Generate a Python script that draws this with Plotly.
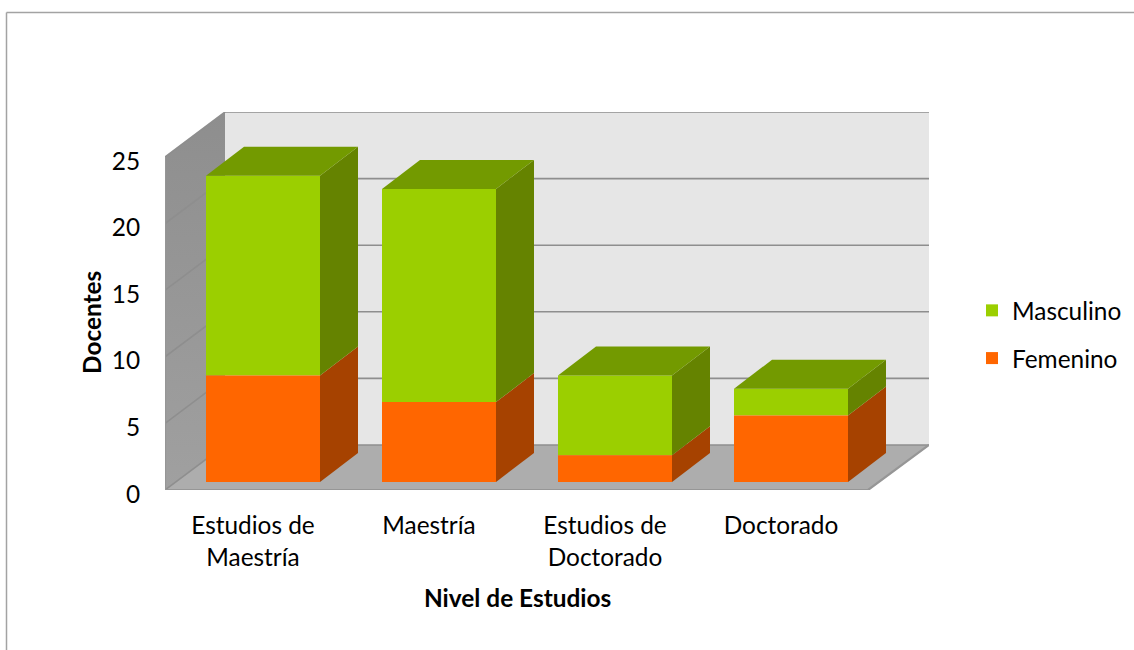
import plotly.graph_objects as go

categories = ["Estudios de<br>Maestría", "Maestría", "Estudios de<br>Doctorado", "Doctorado"]
femenino = [8, 6, 2, 5]
masculino = [15, 16, 6, 2]
y_ticks = [0, 5, 10, 15, 20, 25]

W, H = 1134, 650
PX_L, PX_R, PX_T, PX_B = 165, 929, 112, 490
PX_X = 176.0          # pixels per category
PX_Y = 13.32          # pixels per docente
X0 = -0.5
X1 = X0 + (PX_R - PX_L) / PX_X
Y1 = (PX_B - PX_T) / PX_Y
# projection of the box depth
WALL_DX, WALL_DY = 60 / PX_X, 45 / PX_Y
FRONT_W = (868 - 165) / PX_X
BAR_W = 114 / PX_X
BAR_DX, BAR_DY = 38 / PX_X, 29 / PX_Y
BAR_SHIFT, BAR_LIFT = 10 / PX_X, 8 / PX_Y

GRID = "#8e8e8e"
FONT = "Lato"
TXT = "#000000"
FS = 24.4


def poly(xs, ys, color, axes="", **kw):
    return go.Scatter(x=xs, y=ys, mode="lines", fill="toself", fillcolor=color,
                      line=dict(width=0, color=color), hoverinfo="skip",
                      showlegend=False, xaxis="x" + axes, yaxis="y" + axes, **kw)


fig = go.Figure()

# back wall
fig.add_trace(poly([X0 + WALL_DX, X1, X1, X0 + WALL_DX], [WALL_DY, WALL_DY, Y1, Y1], "#e6e6e6"))
# floor
fig.add_trace(poly([X0, X0 + WALL_DX, X1, X0 + FRONT_W], [0, WALL_DY, WALL_DY, 0], "#adadad"))
# side wall
fig.add_trace(go.Scatter(
    x=[X0, X0 + WALL_DX, X0 + WALL_DX, X0], y=[0, WALL_DY, Y1, y_ticks[-1]],
    mode="lines", fill="toself", line=dict(width=0), hoverinfo="skip", showlegend=False,
    fillgradient=dict(type="vertical", colorscale=[[0, "#a0a0a0"], [1, "#8e8e8e"]])))
# grid lines across the side wall and back wall
for t in y_ticks:
    fig.add_trace(go.Scatter(
        x=[X0, X0 + WALL_DX, X1], y=[t, t + WALL_DY, t + WALL_DY], mode="lines",
        line=dict(color=GRID, width=1.6), hoverinfo="skip", showlegend=False))
# front and left edges
fig.add_trace(go.Scatter(
    x=[X0, X0, X0 + FRONT_W, X1], y=[y_ticks[-1], 0, 0, WALL_DY], mode="lines",
    line=dict(color="#969696", width=2.2), hoverinfo="skip", showlegend=False))

# bars on an overlaid axis pair so they sit over the walls
xs = [i + BAR_SHIFT for i in range(len(categories))]
base_f = [BAR_LIFT] * len(femenino)
base_m = [BAR_LIFT + f for f in femenino]
fig.add_trace(go.Bar(x=xs, y=masculino, base=base_m, width=BAR_W, name="Masculino",
                     marker=dict(color="#9bcf00", line=dict(width=0)), xaxis="x2", yaxis="y2",
                     legendgroup="m"))
fig.add_trace(go.Bar(x=xs, y=femenino, base=base_f, width=BAR_W, name="Femenino",
                     marker=dict(color="#ff6600", line=dict(width=0)), xaxis="x2", yaxis="y2",
                     legendgroup="f"))

for x, f, m, bf, bm in zip(xs, femenino, masculino, base_f, base_m):
    r = x + BAR_W / 2
    l = x - BAR_W / 2
    fig.add_trace(poly([r, r + BAR_DX, r + BAR_DX, r],
                       [bf, bf + BAR_DY, bf + f + BAR_DY, bf + f], "#a64200", "2"))
    fig.add_trace(poly([r, r + BAR_DX, r + BAR_DX, r],
                       [bm, bm + BAR_DY, bm + m + BAR_DY, bm + m], "#658300", "2"))
    fig.add_trace(poly([l, l + BAR_DX, r + BAR_DX, r],
                       [bm + m, bm + m + BAR_DY, bm + m + BAR_DY, bm + m], "#739a00", "2"))

dom_x = [PX_L / W, PX_R / W]
dom_y = [(H - PX_B) / H, (H - PX_T) / H]
fig.update_layout(
    width=W, height=H, margin=dict(l=0, r=0, t=0, b=0, autoexpand=False),
    paper_bgcolor="white", plot_bgcolor="white", barmode="overlay",
    font=dict(family=FONT, size=FS, color=TXT),
    xaxis=dict(domain=dom_x, range=[X0, X1], tickmode="array", tickvals=list(range(len(categories))),
               ticktext=categories, showgrid=False, zeroline=False, showline=False,
               ticks="outside", ticklen=14, tickcolor="rgba(0,0,0,0)", tickfont=dict(size=FS)),
    yaxis=dict(domain=dom_y, range=[0, Y1], tickmode="array", tickvals=y_ticks,
               showgrid=False, zeroline=False, showline=False, ticklabelshift=4,
               ticks="outside", ticklen=19, tickcolor="rgba(0,0,0,0)", tickfont=dict(size=FS)),
    xaxis2=dict(domain=dom_x, range=[X0, X1], overlaying="x", visible=False, anchor="y2"),
    yaxis2=dict(domain=dom_y, range=[0, Y1], overlaying="y", visible=False, anchor="x2"),
    legend=dict(x=972 / W, y=1 - 288 / H, xanchor="left", yanchor="top", traceorder="grouped",
                tracegroupgap=13, bgcolor="rgba(0,0,0,0)", font=dict(size=FS), itemwidth=30),
    annotations=[
        dict(text="<b>Docentes</b>", x=91 / W, y=1 - 323 / H, xref="paper", yref="paper",
             xanchor="center", yanchor="middle",
             textangle=-90, showarrow=False, font=dict(size=FS)),
        dict(text="<b>Nivel de Estudios</b>", x=517 / W, y=1 - 597 / H, xref="paper", yref="paper",
             xanchor="center", yanchor="middle",
             showarrow=False, font=dict(size=FS)),
    ],
    shapes=[
        dict(type="line", xref="paper", yref="paper", x0=6.5 / W, x1=1, y0=1 - 12.5 / H, y1=1 - 12.5 / H,
             line=dict(color="#a3a3a3", width=1.5)),
        dict(type="line", xref="paper", yref="paper", x0=6.5 / W, x1=6.5 / W, y0=0, y1=1 - 12.5 / H,
             line=dict(color="#a3a3a3", width=1.5)),
    ],
)
fig.write_html("out.html", config=dict(displayModeBar=False),
               post_script="document.body.style.margin='0';document.body.style.overflow='hidden';")
